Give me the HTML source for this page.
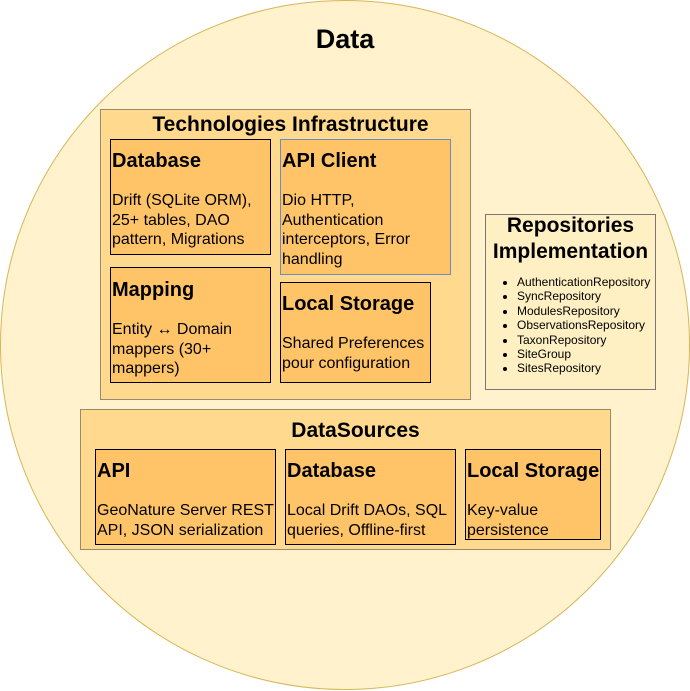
<!DOCTYPE html>
<html><head><style>
body{margin:0;width:690px;height:691px;position:relative;overflow:hidden;background:#fff;font-family:"Liberation Sans",sans-serif;}
.b{position:absolute;box-sizing:border-box;}
.in{background:#ffc468;border:1px solid #000;}
.t{position:absolute;font-weight:bold;font-size:20px;}
.x{position:absolute;font-size:16px;line-height:19.5px;}
</style></head><body>
<div class="b" style="left:0;top:0;width:690px;height:690px;border-radius:50%;background:#fff2cc;border:1px solid #d6b656"></div>
<div class="t" style="left:0;width:690px;text-align:center;top:24px;font-size:27px">Data</div>

<div class="b" style="left:100px;top:109px;width:371px;height:291px;background:#ffd98e;border:1px solid #9a8a6a"></div>
<div class="t" style="left:105px;width:371px;text-align:center;top:113px;font-size:21px">Technologies Infrastructure</div>

<div class="b in" style="left:110px;top:139px;width:161px;height:116px"></div>
<div class="t" style="left:112px;top:150px">Database</div>
<div class="x" style="left:112px;top:191px">Drift (SQLite ORM),<br>25+ tables, DAO<br>pattern, Migrations</div>

<div class="b in" style="left:280px;top:139px;width:171px;height:136px;border-color:#6c8ebf"></div>
<div class="t" style="left:282px;top:150px">API Client</div>
<div class="x" style="left:282px;top:191px">Dio HTTP,<br>Authentication<br>interceptors, Error<br>handling</div>

<div class="b in" style="left:110px;top:267px;width:161px;height:116px"></div>
<div class="t" style="left:112px;top:279px">Mapping</div>
<div class="x" style="left:112px;top:320px">Entity ↔ Domain<br>mappers (30+<br>mappers)</div>

<div class="b in" style="left:280px;top:282px;width:151px;height:101px"></div>
<div class="t" style="left:282px;top:293px">Local Storage</div>
<div class="x" style="left:282px;top:334px">Shared Preferences<br>pour configuration</div>

<div class="b" style="left:485px;top:214px;width:171px;height:176px;background:#fff0c4;border:1px solid #777"></div>
<div class="t" style="left:485px;width:171px;text-align:center;top:213px;font-size:21px;line-height:26px">Repositories<br>Implementation</div>
<ul style="position:absolute;left:477px;top:275px;margin:0;padding-left:40px;font-size:12px;line-height:14.4px">
<li>AuthenticationRepository</li><li>SyncRepository</li><li>ModulesRepository</li><li>ObservationsRepository</li><li>TaxonRepository</li><li>SiteGroup</li><li>SitesRepository</li></ul>

<div class="b" style="left:80px;top:409px;width:531px;height:141px;background:#ffd98e;border:1px solid #9a8a6a"></div>
<div class="t" style="left:90px;width:531px;text-align:center;top:419px;font-size:21px">DataSources</div>

<div class="b in" style="left:95px;top:449px;width:181px;height:96px"></div>
<div class="t" style="left:97px;top:460px">API</div>
<div class="x" style="left:97px;top:501px">GeoNature Server REST<br>API, JSON serialization</div>

<div class="b in" style="left:285px;top:449px;width:171px;height:96px"></div>
<div class="t" style="left:287px;top:460px">Database</div>
<div class="x" style="left:287px;top:501px">Local Drift DAOs, SQL<br>queries, Offline-first</div>

<div class="b in" style="left:465px;top:449px;width:136px;height:91px"></div>
<div class="t" style="left:467px;top:460px">Local Storage</div>
<div class="x" style="left:467px;top:501px">Key-value<br>persistence</div>
</body></html>
